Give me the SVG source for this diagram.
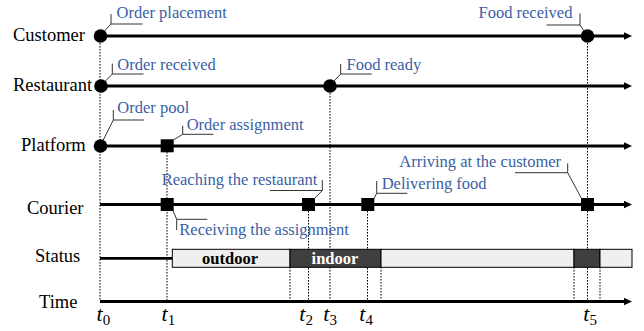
<svg xmlns="http://www.w3.org/2000/svg" width="644" height="331" viewBox="0 0 644 331">
<defs>
<marker id="arr" markerUnits="userSpaceOnUse" markerWidth="9" markerHeight="8" refX="0" refY="4" orient="auto" viewBox="0 0 9 8">
<path d="M0,0.3 L8,4 L0,7.7 z" fill="#000"/>
</marker>
<style>
.lane{font-family:"Liberation Serif","Times New Roman",serif;font-size:18.5px;fill:#000}
.lbl{font-family:"Liberation Serif","Times New Roman",serif;font-size:16.5px;fill:#3b5ea6}
.lead{fill:none;stroke:#333;stroke-width:1}
.axis{stroke:#000;stroke-width:2.8;fill:none}
.dot{stroke:#000;stroke-width:1;stroke-dasharray:1.6 1.4;fill:none}
.ev{fill:#000}
.tl{font-family:"Liberation Serif","Times New Roman",serif;font-style:italic;font-size:22px;fill:#000}
.sub{font-size:15px;font-style:normal}
.bar-l{fill:#efefef;stroke:#000;stroke-width:1}
.bar-d{fill:#3f3f3f;stroke:#000;stroke-width:1}
.bt{font-family:"Liberation Serif","Times New Roman",serif;font-weight:bold;font-size:16.5px;text-anchor:middle}
</style>
</defs>
<rect width="644" height="331" fill="#fff"/>

<g id="connectors">
<!-- dotted time guides -->
<line class="dot" x1="100" y1="43" x2="100" y2="300"/>
<line class="dot" x1="167" y1="152" x2="167" y2="300"/>
<line class="dot" x1="308.5" y1="211" x2="308.5" y2="300"/>
<line class="dot" x1="330" y1="93" x2="330" y2="300"/>
<line class="dot" x1="367.5" y1="211" x2="367.5" y2="300"/>
<line class="dot" x1="587.5" y1="43" x2="587.5" y2="300"/>
<line class="dot" x1="290" y1="267" x2="290" y2="300"/>
<line class="dot" x1="381" y1="267" x2="381" y2="300"/>
<line class="dot" x1="574" y1="267" x2="574" y2="300"/>
<line class="dot" x1="600" y1="267" x2="600" y2="300"/>
<!-- timelines -->
<line class="axis" x1="100" y1="36" x2="624" y2="36" marker-end="url(#arr)"/>
<line class="axis" x1="100" y1="86" x2="624" y2="86" marker-end="url(#arr)"/>
<line class="axis" x1="100" y1="146" x2="624" y2="146" marker-end="url(#arr)"/>
<line class="axis" x1="100" y1="204.5" x2="624" y2="204.5" marker-end="url(#arr)"/>
<line class="axis" x1="100" y1="301.5" x2="624" y2="301.5" marker-end="url(#arr)"/>
<line class="axis" x1="100" y1="258.3" x2="172" y2="258.3"/>
</g>

<g id="lane-customer"><text class="lane" x="13" y="41">Customer</text></g>
<g id="lane-restaurant"><text class="lane" x="13" y="91">Restaurant</text></g>
<g id="lane-platform"><text class="lane" x="21" y="150.5">Platform</text></g>
<g id="lane-courier"><text class="lane" x="27" y="214">Courier</text></g>
<g id="lane-status"><text class="lane" x="35" y="262">Status</text></g>
<g id="lane-time"><text class="lane" x="39" y="307.5">Time</text></g>

<g id="status-bar">
<rect class="bar-l" x="172.3" y="249.3" width="117.7" height="18"/>
<rect class="bar-d" x="290" y="249.3" width="91" height="18"/>
<rect class="bar-l" x="381" y="249.3" width="193" height="18"/>
<rect class="bar-d" x="574" y="249.3" width="26" height="18"/>
<rect class="bar-l" x="600" y="249.3" width="32" height="18"/>
<text class="bt" x="230" y="263.5" fill="#000">outdoor</text>
<text class="bt" x="335" y="263.5" fill="#fff">indoor</text>
</g>

<g id="ev-order-placement">
<circle class="ev" cx="100.5" cy="36" r="6.8"/>
<polyline class="lead" points="104,31.5 111,24 111,14"/>
<line class="lead" x1="111" y1="24" x2="142.5" y2="24"/>
<text class="lbl" x="116.5" y="17.5">Order placement</text>
</g>

<g id="ev-food-received">
<circle class="ev" cx="587.5" cy="36" r="6.8"/>
<polyline class="lead" points="584,31 580,25 580,13.5"/>
<line class="lead" x1="546.5" y1="25" x2="580" y2="25"/>
<text class="lbl" x="478.5" y="17.5">Food received</text>
</g>

<g id="ev-order-received">
<circle class="ev" cx="101" cy="86" r="6.8"/>
<polyline class="lead" points="105,81.5 112.3,74 112.3,63.5"/>
<line class="lead" x1="112.3" y1="74" x2="143.5" y2="74"/>
<text class="lbl" x="117.3" y="69.5">Order received</text>
</g>

<g id="ev-food-ready">
<circle class="ev" cx="330" cy="86" r="6.8"/>
<polyline class="lead" points="333.5,81.5 340.7,74 340.7,64"/>
<line class="lead" x1="340.7" y1="74" x2="371.7" y2="74"/>
<text class="lbl" x="346.5" y="69.5">Food ready</text>
</g>

<g id="ev-order-pool">
<circle class="ev" cx="100.5" cy="146" r="6.8"/>
<polyline class="lead" points="103,140.5 113.3,120 113.3,110"/>
<line class="lead" x1="113.3" y1="120" x2="144" y2="120"/>
<text class="lbl" x="117.3" y="112.5">Order pool</text>
</g>

<g id="ev-order-assignment">
<rect class="ev" x="160.7" y="139.3" width="13" height="13"/>
<polyline class="lead" points="172.5,140.5 182.7,134.3 182.7,125.7"/>
<line class="lead" x1="182.7" y1="134.3" x2="213.3" y2="134.3"/>
<text class="lbl" x="186.7" y="129.5">Order assignment</text>
</g>

<g id="ev-receiving-assignment">
<rect class="ev" x="160.7" y="198" width="13" height="13"/>
<polyline class="lead" points="172.5,209.5 176.7,219.3 176.7,230"/>
<line class="lead" x1="176.7" y1="219.3" x2="207.3" y2="219.3"/>
<text class="lbl" x="179.3" y="235">Receiving the assignment</text>
</g>

<g id="ev-reaching-restaurant">
<rect class="ev" x="302" y="198" width="13" height="13"/>
<polyline class="lead" points="314,199 322.3,190.5 322.3,180"/>
<line class="lead" x1="270" y1="190.5" x2="322.3" y2="190.5"/>
<text class="lbl" x="161.7" y="185">Reaching the restaurant</text>
</g>

<g id="ev-delivering-food">
<rect class="ev" x="361.3" y="198" width="13" height="13"/>
<polyline class="lead" points="374,198.5 376.7,193.3 376.7,181"/>
<line class="lead" x1="376.7" y1="193.3" x2="407.3" y2="193.3"/>
<text class="lbl" x="381.7" y="189.3">Delivering food</text>
</g>

<g id="ev-arriving-customer">
<rect class="ev" x="581" y="198" width="13" height="13"/>
<polyline class="lead" points="581.5,198.5 567.7,172.7 567.7,163.3"/>
<line class="lead" x1="515" y1="172.7" x2="567.7" y2="172.7"/>
<text class="lbl" x="399.3" y="166.7">Arriving at the customer</text>
</g>

<g id="time-labels">
<text class="tl" x="96.5" y="321">t<tspan class="sub" dy="4">0</tspan></text>
<text class="tl" x="161.5" y="321">t<tspan class="sub" dy="4">1</tspan></text>
<text class="tl" x="299.3" y="321">t<tspan class="sub" dy="4">2</tspan></text>
<text class="tl" x="323.3" y="321">t<tspan class="sub" dy="4">3</tspan></text>
<text class="tl" x="359.3" y="321">t<tspan class="sub" dy="4">4</tspan></text>
<text class="tl" x="583.3" y="321">t<tspan class="sub" dy="4">5</tspan></text>
</g>
</svg>
